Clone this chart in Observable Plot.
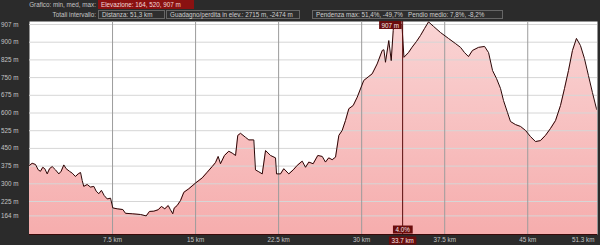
<!DOCTYPE html>
<html><head><meta charset="utf-8">
<script src="https://cdn.jsdelivr.net/npm/d3@7"></script>
<script src="https://cdn.jsdelivr.net/npm/@observablehq/plot@0.6"></script>
<style>
html,body{margin:0;padding:0;background:#2b2b2b;width:600px;height:245px;overflow:hidden;font-family:"Liberation Sans",Arial,sans-serif;}
#hdr{position:relative;height:20px;width:600px;font-size:6.3px;color:#c4c4c4;}
#hdr div{position:absolute;white-space:nowrap;box-sizing:border-box;height:9px;line-height:9px;}
.lbl{text-align:right;left:0;width:96px;}
.box{padding-left:3px;}
.red{background:#8a1111;color:#f3d8d8;}
.gry{border:1px solid #666;background:#2e2e2e;color:#cfcfcf;line-height:7px !important;}
#chart svg{display:block;}
</style></head>
<body>
<div id="hdr">
  <div class="lbl" style="top:0">Grafico: min, med, max:</div>
  <div class="box red" style="left:98px;top:0;width:96px;">Elevazione: 164, 520, 907 m</div>
  <div class="lbl" style="top:10px">Totali intervallo:</div>
  <div class="box gry" style="left:98px;top:10px;width:67px;">Distanza: 51,3 km</div>
  <div class="box gry" style="left:166px;top:10px;width:134px;">Guadagno/perdita in elev.: 2715 m, -2474 m</div>
  <div class="box gry" style="left:312px;top:10px;width:191px;">Pendenza max: 51,4%, -49,7%&nbsp;&nbsp;&nbsp;Pendio medio: 7,8%, -8,2%</div>
</div>
<div id="chart"></div>
<script>
// distance along route (km)
const km = [0,0.24,0.54,0.79,0.99,1.20,1.38,1.60,1.81,2.05,2.35,2.65,2.86,3.10,3.31,3.61,3.86,4.15,4.40,4.61,4.76,4.90,5.21,5.51,5.81,6.02,6.26,6.50,6.75,7.02,7.32,7.52,7.92,8.43,8.67,9.28,10.03,10.54,10.84,11.23,11.62,11.92,12.22,12.53,12.73,12.94,13.07,13.34,13.64,13.94,14.39,14.99,15.60,16.05,16.50,16.80,17.04,17.25,17.61,18.00,18.31,18.61,18.81,19.06,19.51,19.81,20.26,20.41,20.71,21.02,21.32,21.77,22.22,22.31,22.67,22.97,23.42,23.82,24.18,24.63,24.93,25.23,25.62,26.04,26.44,26.73,27.03,27.34,27.64,27.94,28.24,28.54,28.84,29.24,29.60,30.19,30.65,30.95,31.40,31.86,32.01,32.15,32.45,32.67,32.85,32.92,33.33,33.64,33.82,34.23,34.56,34.95,35.31,35.68,36.04,36.49,37.12,37.84,38.48,38.93,39.29,39.65,40.01,40.55,41.10,41.46,41.82,42.18,42.54,42.81,43.17,43.44,43.89,44.35,44.80,45.25,45.70,46.15,46.60,47.05,47.51,47.96,48.32,48.68,49.04,49.40,49.76,50.12,50.48,50.84,51.2,51.3];
// elevation (m)
const elev = [378,387,382,359,353,370,364,342,364,373,359,342,353,380,364,353,345,331,342,348,314,289,297,286,289,269,258,272,250,236,239,198,194,191,175,173,170,164,183,184,190,204,194,208,190,173,197,208,229,264,279,303,325,349,373,390,416,385,420,438,430,420,505,514,497,486,486,359,351,342,441,420,410,342,342,364,342,359,378,396,370,392,385,420,416,392,410,402,413,505,526,568,618,632,667,738,755,766,808,865,868,815,907,822,950,988,988,971,836,856,879,903,928,958,986,967,941,916,894,878,856,839,865,878,882,856,780,746,704,653,602,564,551,543,526,500,479,483,505,534,568,632,704,780,865,916,886,831,759,687,619,611];

const yTicks = [164,225,300,375,450,525,600,675,750,825,900,975];
const yTickLabels = ["164 m","225 m","300 m","375 m","450 m","525 m","600 m","675 m","750 m","825 m","900 m","907 m"];
const xTicks = [7.5,15,22.5,30,37.5,45];
const xTickLabels = ["7.5 km","15 km","22.5 km","30 km","37.5 km","45 km"];
const xEndTick = [51.3];
const xEndLabel = ["51.3 km"];
const cursorKm = [33.7];
const cursorTexts = {top: "907 m", slope: "4.0%", dist: "33.7 km"};
const yDomain = [85.2, 987.7];
const xDomain = [0, 51.3];

const profile = km.map((d, i) => ({km: d, m: elev[i]}));

const gradient = () => {
  const ns = "http://www.w3.org/2000/svg";
  const defs = document.createElementNS(ns, "defs");
  const lg = document.createElementNS(ns, "linearGradient");
  lg.setAttribute("id", "pinkGrad");
  lg.setAttribute("x1", "0"); lg.setAttribute("x2", "0");
  lg.setAttribute("y1", "0"); lg.setAttribute("y2", "1");
  [["0%", "#f9d4d4"], ["100%", "#f6adad"]].forEach(([o, c]) => {
    const s = document.createElementNS(ns, "stop");
    s.setAttribute("offset", o); s.setAttribute("stop-color", c);
    lg.appendChild(s);
  });
  defs.appendChild(lg);
  return defs;
};

const chart = Plot.plot({
  width: 600,
  height: 225,
  marginTop: 1,
  marginBottom: 11,
  marginLeft: 29,
  marginRight: 3,
  x: {domain: xDomain},
  y: {domain: yDomain},
  style: {background: "transparent", color: "#c4c4c4", fontSize: "6.3px", fontFamily: "Liberation Sans, Arial, sans-serif"},
  marks: [
    gradient,
    Plot.frame({fill: "white", stroke: null}),
    Plot.areaY(profile, {x: "km", y1: yDomain[0], y2: "m", fill: "url(#pinkGrad)", clip: true}),
    Plot.gridY(yTicks, {stroke: "#d6d6d6", strokeOpacity: 1}),
    Plot.gridX(xTicks, {stroke: "#9c9c9c", strokeOpacity: 1}),
    Plot.lineY(profile, {x: "km", y: "m", stroke: "#2a0505", strokeWidth: 1, clip: true}),
    Plot.ruleX(cursorKm, {stroke: "#5a0c0c", strokeWidth: 1}),
    Plot.ruleY([yDomain[0]], {stroke: "#3a0909"}),
    Plot.axisY(yTicks, {tickSize: 0, tickPadding: 11, fill: "#c4c4c4", tickFormat: d => yTickLabels[yTicks.indexOf(d)], label: null}),
    Plot.axisX(xTicks, {tickSize: 0, tickPadding: 3, fill: "#c4c4c4", tickFormat: d => xTickLabels[xTicks.indexOf(d)], label: null}),
    Plot.axisX(xEndTick, {tickSize: 0, tickPadding: 3, fill: "#c4c4c4", textAnchor: "end", dx: -3, tickFormat: d => xEndLabel[0], label: null}),
    Plot.text(cursorKm, {x: d => d, frameAnchor: "top", lineAnchor: "middle", dy: 4, dx: -3.5, textAnchor: "end", text: () => cursorTexts.top, fill: "#f5e6e6"}),
    Plot.text(cursorKm, {x: d => d, frameAnchor: "bottom", lineAnchor: "middle", dy: -4.5, text: () => cursorTexts.slope, fill: "#f5e6e6"}),
    Plot.text(cursorKm, {x: d => d, frameAnchor: "bottom", lineAnchor: "middle", dy: 6.5, text: () => cursorTexts.dist, fill: "#f5e6e6"})
  ]
});
document.getElementById("chart").appendChild(chart);

// dark-red label boxes behind the cursor texts
d3.select(chart).selectAll('g[aria-label="text"] text').each(function() {
  const b = this.getBBox();
  const r = document.createElementNS("http://www.w3.org/2000/svg", "rect");
  r.setAttribute("x", b.x - 2.5);
  r.setAttribute("y", b.y - 0.5);
  r.setAttribute("width", b.width + 5);
  r.setAttribute("height", b.height + 1);
  r.setAttribute("fill", "#6a0d0d");
  r.setAttribute("stroke", "none");
  const t = this.getAttribute("transform");
  if (t) r.setAttribute("transform", t);
  this.parentNode.insertBefore(r, this);
});
</script>
</body></html>
